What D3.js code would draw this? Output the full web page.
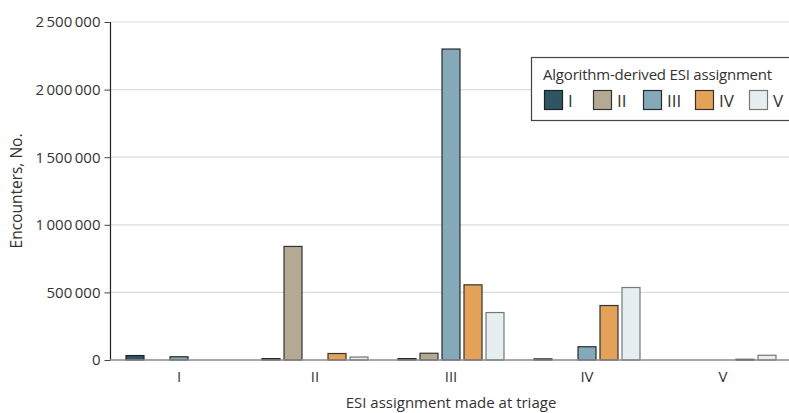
<!DOCTYPE html>
<html><head><meta charset="utf-8">
<script src="https://cdn.jsdelivr.net/npm/d3@7"></script>
<style>
body{margin:0;background:#fff;}
svg{display:block;font-family:"Open Sans",sans-serif;}
</style></head>
<body><svg id="c" width="789" height="413"></svg>
<script>
const categories = ["I","II","III","IV","V"];
const seriesNames = ["I","II","III","IV","V"];
const algoI   = [33000, 10000, 10000, 8000, 0];
const algoII  = [0, 840000, 50000, 0, 0];
const algoIII = [24000, 0, 2300000, 98000, 0];
const algoIV  = [0, 48000, 556000, 403000, 5000];
const algoV   = [0, 22000, 351000, 536000, 35000];
const yTicks = [0, 500000, 1000000, 1500000, 2000000, 2500000];
const colors = ["#2e5563","#b4a993","#84a9b8","#e3a257","#e6eef2"];
const strokes = ["#222","#333","#2a2a2a","#333","#777"];
const FS = 15;

const series = [algoI, algoII, algoIII, algoIV, algoV];
const svg = d3.select("#c");
const x0 = d3.scaleBand().domain(categories).range([111, 791]);
const x1 = d3.scaleBand().domain(seriesNames).range([0, 107]).paddingInner(3/22);
const y = d3.scaleLinear().domain([0, 2500000]).range([360, 22]);
const loc = d3.formatLocale({decimal:".", thousands:"\u2009", grouping:[3], currency:["",""]});
const fmt = loc.format(",d");

// gridlines
svg.append("g").selectAll("line").data(yTicks.filter(d=>d>0)).join("line")
  .attr("x1",110).attr("x2",789).attr("y1",d=>y(d)).attr("y2",d=>y(d))
  .attr("stroke","#dcdcdc").attr("stroke-width",1.2);

// y axis
const ya = svg.append("g").attr("transform","translate(110.5,0)")
  .call(d3.axisLeft(y).tickValues(yTicks).tickFormat(fmt).tickSize(6).tickPadding(4));
ya.select(".domain").attr("stroke","#222").attr("stroke-width",1.2).attr("d","M0,"+y(2500000)+"V"+y(0));
ya.selectAll(".tick line").attr("stroke","#444");
ya.selectAll("text").attr("font-size",FS).attr("fill","#333").attr("font-family","'Open Sans',sans-serif");

// bars
const g = svg.append("g");
categories.forEach((c, ci) => {
  series.forEach((s, si) => {
    const v = s[ci];
    if (!v) return;
    g.append("rect")
      .attr("x", x0(c) + 14.5 + x1(seriesNames[si]) + 0.5)
      .attr("y", y(v))
      .attr("width", x1.bandwidth() - 1)
      .attr("height", Math.max(0.8, y(0) - y(v)))
      .attr("fill", colors[si]).attr("stroke", strokes[si]).attr("stroke-width", 1.2);
  });
});

// baseline
svg.append("line").attr("x1",110).attr("x2",789).attr("y1",360).attr("y2",360)
  .attr("stroke","#8a8a8a").attr("stroke-width",1.5);

// x labels
svg.append("g").selectAll("text").data(categories).join("text")
  .attr("x", d=>x0(d)+x0.bandwidth()/2).attr("y", 382)
  .attr("text-anchor","middle").attr("font-size",FS).attr("fill","#333").text(d=>d);

// axis titles
svg.append("text").attr("x",451).attr("y",408).attr("text-anchor","middle")
  .attr("font-size",FS).attr("fill","#333").text("ESI assignment made at triage");
svg.append("text").attr("transform","translate(22,191) rotate(-90)").attr("text-anchor","middle")
  .attr("font-size",FS+0.5).attr("fill","#333").text("Encounters, No.");

// legend
const lg = svg.append("g");
lg.append("rect").attr("x",531.5).attr("y",57.5).attr("width",270).attr("height",63)
  .attr("fill","#fff").attr("stroke","#444").attr("stroke-width",1.2);
lg.append("text").attr("x",543).attr("y",80).attr("font-size",FS).attr("fill","#333")
  .attr("letter-spacing","-0.2").text("Algorithm-derived ESI assignment");
const lx = [544, 593, 643, 695, 749];
seriesNames.forEach((n,i)=>{
  lg.append("rect").attr("x",lx[i]+0.5).attr("y",90.5).attr("width",18).attr("height",19)
    .attr("fill",colors[i]).attr("stroke",strokes[i]).attr("stroke-width",1.2);
  lg.append("text").attr("x",lx[i]+24).attr("y",107).attr("font-size",17).attr("fill","#333").text(n);
});
</script></body></html>
